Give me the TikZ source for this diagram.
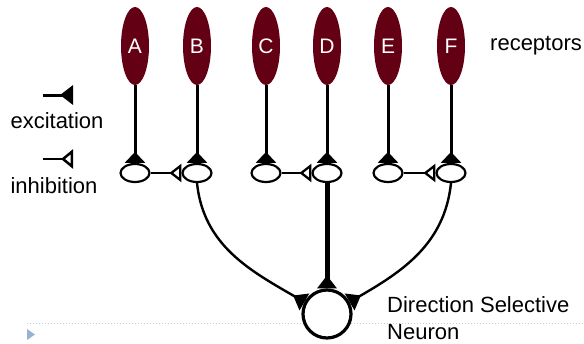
\documentclass[tikz,border=0pt]{standalone}
\usepackage{fontspec}
\setmainfont{Liberation Sans}
\usetikzlibrary{arrows.meta,shapes.geometric}
\definecolor{receptorred}{RGB}{100,0,20}
\definecolor{rulegray}{RGB}{190,205,222}
\definecolor{bulletblue}{RGB}{150,180,210}

\begin{document}
\begin{tikzpicture}[x=1pt,y=1pt,
  receptor/.style={ellipse, fill=receptorred, minimum width=28pt, minimum height=78pt,
    inner sep=0pt, text=white, font=\fontsize{21}{24}\selectfont},
  cell/.style={ellipse, draw, line width=2.2pt, fill=white, minimum width=29pt,
    minimum height=18pt, inner sep=0pt},
  excite/.style={-{Triangle[reversed,width=20pt,length=11pt]}},
  inhibit/.style={-{Triangle[open,reversed,width=18pt,length=12pt]}},
  dsnexcite/.style={-{Triangle[reversed,width=19pt,length=13pt]}},
  txt/.style={font=\fontsize{22}{26}\selectfont, inner sep=0pt}]

\useasboundingbox (0,0) rectangle (584,-343);

% slide rule and bullet
\draw[rulegray, line width=1pt, dotted] (27,-323) -- (584,-323);
\fill[bulletblue] (27,-329) -- (35,-334.5) -- (27,-340) -- cycle;

% receptors and their cells
\foreach \n/\x in {A/135,B/197,C/266,D/327,E/388,F/451} {
  \node[receptor] (r\n) at (\x,-46) {\n};
  \node[cell] (c\n) at (\x,-173) {};
}
\foreach \n in {A,B,C,D,E,F}
  \draw[line width=3pt, excite] (r\n.south) -- (c\n.north);

% lateral inhibition
\draw[line width=2.3pt, inhibit] (cA.east) -- (cB.west);
\draw[line width=2.3pt, inhibit] (cC.east) -- (cD.west);
\draw[line width=2.3pt, inhibit] (cE.east) -- (cF.west);

% direction selective neuron
\node[circle, draw, line width=3.2pt, fill=white, minimum size=48pt, inner sep=0pt]
  (dsn) at (327,-314) {};
\draw[line width=5pt, dsnexcite] (cD.south) -- (dsn.north);
\draw[line width=2.4pt, dsnexcite] (cB.south) to[out=-84,in=150] (dsn.152);
\draw[line width=2.4pt, dsnexcite] (cF.south) to[out=-96,in=30] (dsn.28);

% legend
\coordinate (exS) at (43,-95);
\coordinate (exE) at (73,-95);
\draw[line width=3pt, -{Triangle[reversed,width=19pt,length=13pt]}] (exS) -- (exE);
\coordinate (inS) at (43,-159);
\coordinate (inE) at (73,-159);
\draw[line width=2.5pt, -{Triangle[open,reversed,width=19pt,length=12pt]}] (inS) -- (inE);

\node[txt, anchor=base] (lex) at (57,-128) {excitation};
\node[txt, anchor=base] (lin) at (54,-193) {inhibition};
\node[txt, anchor=base west] (lrec) at (490,-50) {receptors};
\node[txt, anchor=base west] (ldsn1) at (387,-312) {Direction Selective};
\node[txt, anchor=base west] (ldsn2) at (387,-339) {Neuron};
\end{tikzpicture}
\end{document}
